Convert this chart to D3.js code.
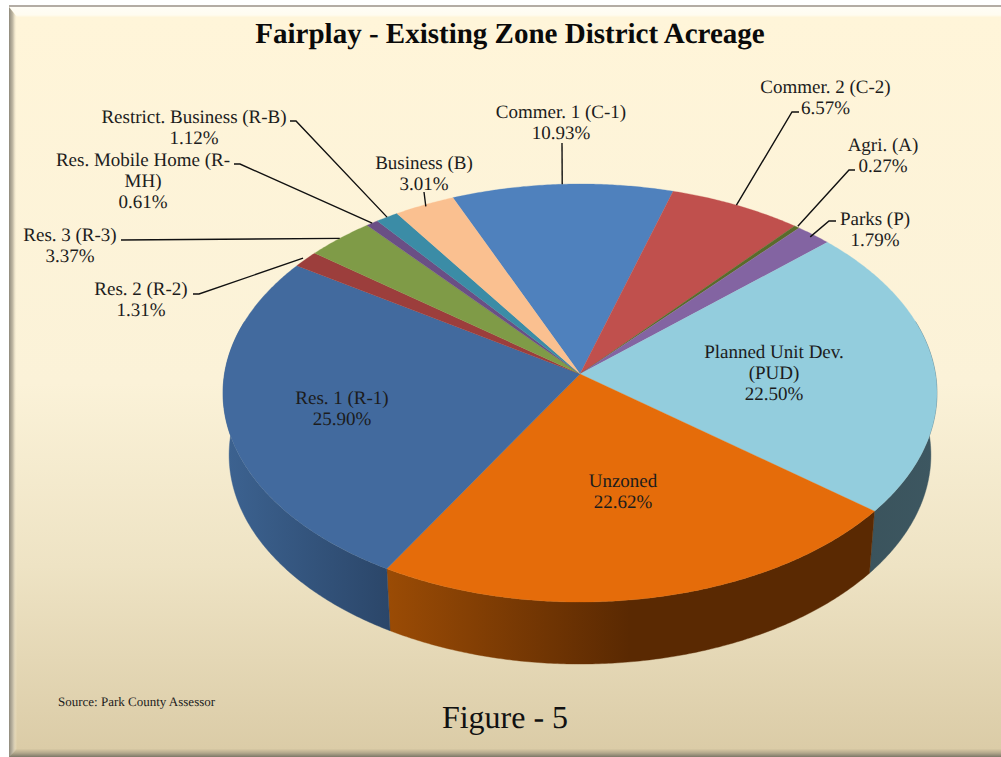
<!DOCTYPE html>
<html><head><meta charset="utf-8">
<script src="https://cdn.jsdelivr.net/npm/d3@7"></script>
<style>
html,body{margin:0;padding:0;background:#fff;overflow:hidden}
svg{display:block}
text{font-family:"Liberation Serif",serif;fill:#1c1c1c;text-rendering:geometricPrecision}
</style></head><body>
<script>
const categories=["Commer. 1 (C-1)","Commer. 2 (C-2)","Agri. (A)","Parks (P)","Planned Unit Dev. (PUD)","Unzoned","Res. 1 (R-1)","Res. 2 (R-2)","Res. 3 (R-3)","Res. Mobile Home (R-MH)","Restrict. Business (R-B)","Business (B)"];
const values=[10.93,6.57,0.27,1.79,22.50,22.62,25.90,1.31,3.37,0.61,1.12,3.01];
const topColors=["#4f81bd","#c0504d","#5a6b2b","#8364a2","#93cddd","#e56c0a","#426a9e","#9c3e3c","#7f9b47","#6a4f85","#3b8ca6","#fac090"];
const labelLines=[["Commer. 1 (C-1)"],["Commer. 2 (C-2)"],["Agri. (A)"],["Parks (P)"],["Planned Unit Dev.","(PUD)"],["Unzoned"],["Res. 1 (R-1)"],["Res. 2 (R-2)"],["Res. 3 (R-3)"],["Res. Mobile Home (R-","MH)"],["Restrict. Business (R-B)"],["Business (B)"]];
const chartTitle="Fairplay - Existing Zone District Acreage";
const sourceNote="Source: Park County Assessor";
const figureNote="Figure - 5";

// label layout: centre x, first baseline, leader start (elbow points)
const labelLayout=[
 {x:561,y:118,lead:[[562,143]]},
 {x:825.5,y:93,lead:[[799,112],[792,112]]},
 {x:883,y:151,lead:[[855,170],[849,170]]},
 {x:875,y:225,lead:[[836,221],[829,221]]},
 {x:774,y:358},
 {x:623,y:487},
 {x:342,y:404},
 {x:141,y:295,lead:[[193,294],[199,294]]},
 {x:70,y:241,lead:[[121,240]]},
 {x:143,y:166,lead:[[234,164],[240,164]]},
 {x:194,y:123,lead:[[290,121],[296,121]]},
 {x:424,y:169,lead:[[424,192]]}
];
const leaderReach=[1,1,1.005,0.985,0,0,0,1.01,1.0,1.0,1.0,0.99];

const W=1001,H=757;
const svg=d3.select("body").append("svg").attr("width",W).attr("height",H);
const defs=svg.append("defs");
function grad(id,x1,y1,x2,y2,stops){
  const g=defs.append("linearGradient").attr("id",id).attr("gradientUnits","userSpaceOnUse")
    .attr("x1",x1).attr("y1",y1).attr("x2",x2).attr("y2",y2);
  stops.forEach(s=>g.append("stop").attr("offset",s[0]).attr("stop-color",s[1]));
}
grad("bg",0,17,0,749,[[0,"#fff5d9"],[0.5,"#fbf2d8"],[0.75,"#eee3c4"],[1,"#dbcca7"]]);
grad("bevL",9,0,17,0,[[0,"#8f8a7c"],[0.5,"#c5bda8"],[1,"rgba(255,245,217,0)"]]);
grad("bevT",0,7,0,17,[[0,"#fffdf6"],[0.8,"#fffcf0"],[1,"#fff6dc"]]);
grad("bevB",0,749,0,757,[[0,"#d8c9a4"],[0.5,"#b3a88c"],[1,"#7d7868"]]);
grad("sideR1",228,0,390,0,[[0,"#3c6290"],[1,"#2b4669"]]);
grad("sideUn",390,0,630,0,[[0,"#9a4b05"],[1,"#5a2902"]]);
grad("sidePud",860,0,937,0,[[0,"#3a535c"],[1,"#3d5761"]]);

// frame
svg.append("rect").attr("x",9).attr("y",5).attr("width",W-9).attr("height",H-5).attr("fill","url(#bg)");
svg.append("rect").attr("x",9).attr("y",5).attr("width",W-9).attr("height",2).attr("fill","#b3aca4");
svg.append("path").attr("d","M9,7H1001V17H17Z").attr("fill","url(#bevT)");
svg.append("path").attr("d","M9,749L17,749H1001V757H9Z").attr("fill","url(#bevB)");
svg.append("path").attr("d","M9,7L17,17V749L9,757Z").attr("fill","url(#bevL)");

// perspective ellipse: a unit disc seen obliquely
const cx=580,cy=374,ax=355.5,by=207.3,k=0.0909,depth=62,shrink=0.983;
const sx=d3.scaleLinear().domain([-1,1]).range([cx-ax,cx+ax]);
const sy=d3.scaleLinear().domain([-1,1]).range([cy+by,cy-by]);
function project(angle,r=1){
  const u=r*Math.sin(angle),v=r*Math.cos(angle),w=1+k*v;
  return [sx(u/w),sy(v/w)];
}
function lower(p){return [cx+(p[0]-cx)*shrink,p[1]+depth];}

const startDeg=-22.8;
const pie=d3.pie().sort(null).startAngle(startDeg*Math.PI/180).endAngle((startDeg+360)*Math.PI/180);
const arcs=pie(values);
const line=d3.line();
const steps=(a,b)=>d3.range(0,1.0001,1/Math.max(2,Math.ceil((b-a)*120))).map(t=>a+(b-a)*t);

// walls
const wallFrom=75*Math.PI/180,wallTo=285*Math.PI/180;
const wallFill={4:"url(#sidePud)",5:"url(#sideUn)",6:"url(#sideR1)"};
const walls=svg.append("g");
arcs.forEach((d,i)=>{
  const a=Math.max(d.startAngle,wallFrom),b=Math.min(d.endAngle,wallTo);
  if(a>=b) return;
  const up=steps(a,b).map(t=>project(t));
  const pts=up.concat(up.slice().reverse().map(lower));
  walls.append("path").attr("d",line(pts)+"Z").attr("fill",wallFill[i]||topColors[i])
    .attr("stroke",wallFill[i]||topColors[i]).attr("stroke-width",0.4);
});
// slices
const faces=svg.append("g");
arcs.forEach((d,i)=>{
  const pts=[project(0,0)].concat(steps(d.startAngle,d.endAngle).map(t=>project(t)));
  faces.append("path").attr("d",line(pts)+"Z").attr("fill",topColors[i])
    .attr("stroke",topColors[i]).attr("stroke-width",0.3);
});

// leaders
const leaders=svg.append("g").attr("fill","none").attr("stroke","#111").attr("stroke-width",1.4);
labelLayout.forEach((l,i)=>{
  if(!l.lead) return;
  const mid=(arcs[i].startAngle+arcs[i].endAngle)/2;
  leaders.append("path").attr("d",line(l.lead.concat([project(mid,leaderReach[i])])));
});

// labels
const lh=21;
labelLayout.forEach((l,i)=>{
  const lines=labelLines[i].concat([values[i].toFixed(2)+"%"]);
  const t=svg.append("text").attr("text-anchor","middle").attr("font-size",19);
  lines.forEach((s,j)=>t.append("tspan").attr("x",l.x).attr("y",l.y+j*lh).text(s));
});

svg.append("text").attr("x",510).attr("y",43).attr("text-anchor","middle").attr("font-size",29)
  .attr("font-weight","bold").style("fill","#0a0a0a").text(chartTitle);
svg.append("text").attr("x",58).attr("y",706).attr("font-size",13).text(sourceNote);
svg.append("text").attr("x",505).attr("y",728).attr("text-anchor","middle").attr("font-size",32).style("fill","#111").text(figureNote);
</script>
</body></html>
